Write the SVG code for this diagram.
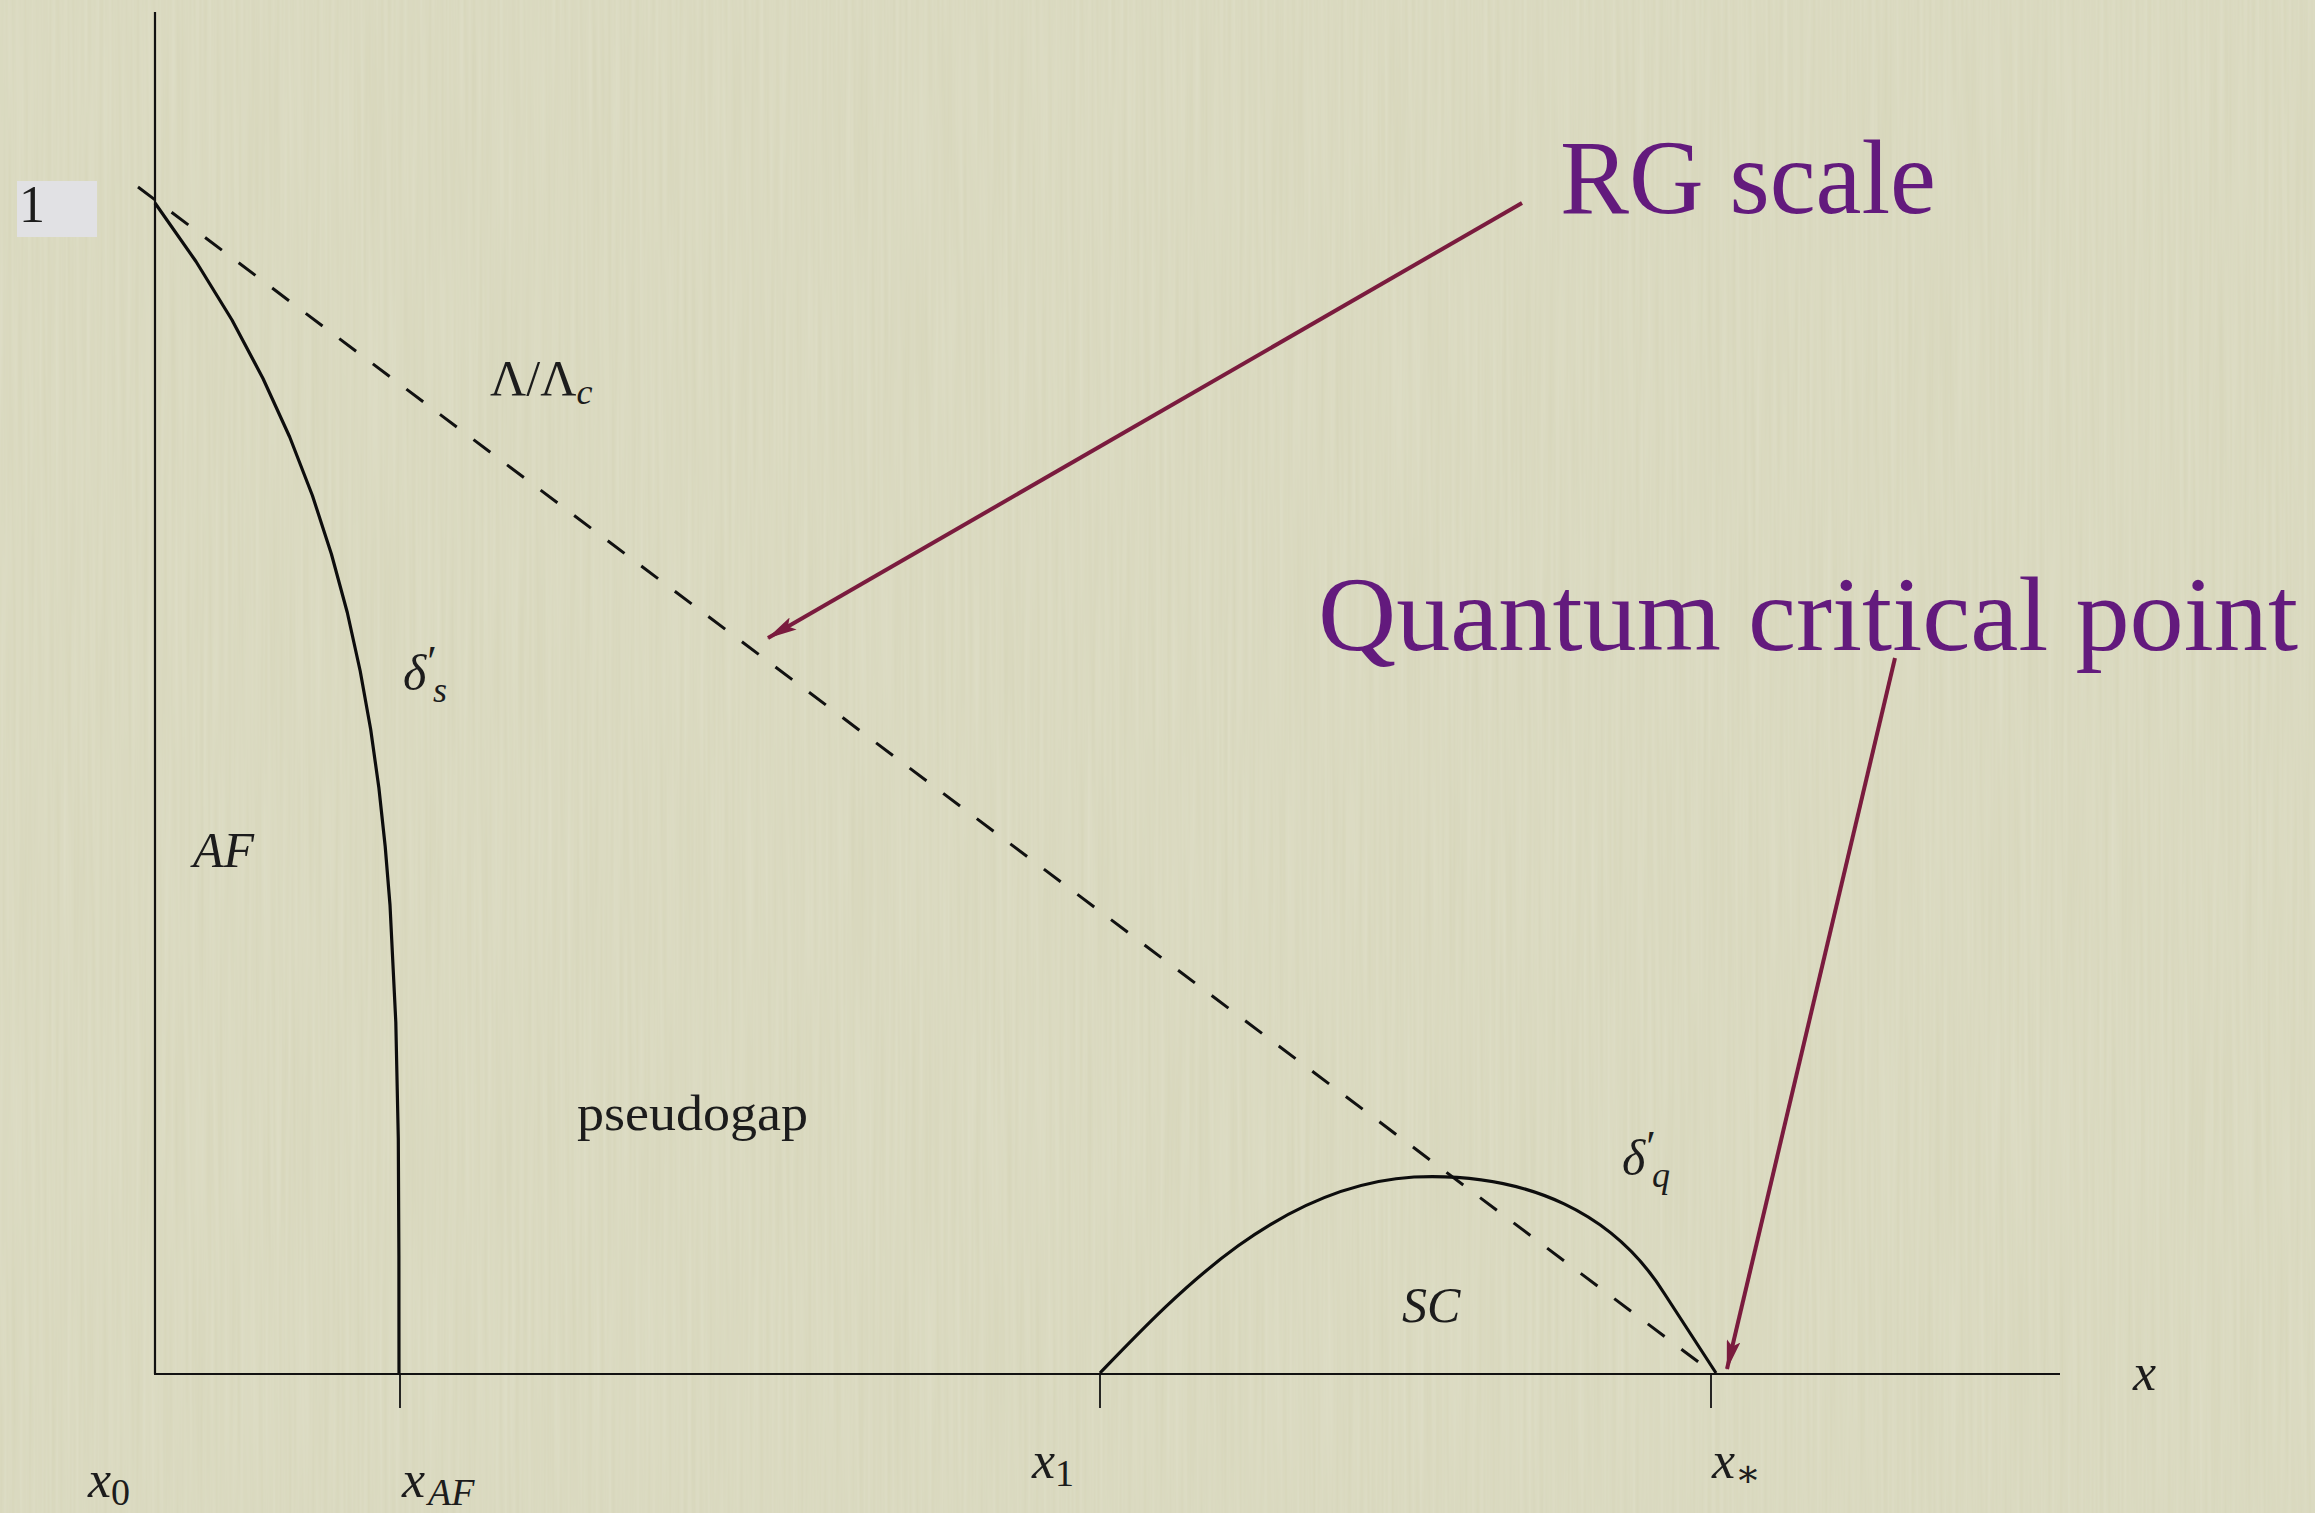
<svg xmlns="http://www.w3.org/2000/svg" width="2315" height="1513" viewBox="0 0 2315 1513">
<style>
.m{font-family:"Liberation Serif","DejaVu Serif",serif;fill:#1c1c1c}
.i{font-style:italic}
.big{font-family:"Liberation Serif","DejaVu Serif",serif;fill:#631a7d;font-size:105px}
.ax{stroke:#111;stroke-width:2.2;fill:none}
.tk{stroke:#111;stroke-width:1.8;fill:none}
.cv{stroke:#0d0d0d;stroke-width:3.2;fill:none;stroke-linejoin:round}
.ar{stroke:#7a1b3e;stroke-width:4;fill:none}
</style>
<defs>
<filter id="paper" x="0" y="0" width="100%" height="100%">
<feTurbulence type="fractalNoise" baseFrequency="0.25 0.004" numOctaves="2" seed="3" result="n"/>
<feColorMatrix in="n" type="matrix" values="0 0 0 0 0.86  0 0 0 0 0.86  0 0 0 0 0.76  0 0 0 0.35 0"/>
</filter>
<marker id="ah" viewBox="0 0 30 14" refX="29" refY="7" markerWidth="30" markerHeight="14" markerUnits="userSpaceOnUse" orient="auto">
<path d="M0,0 L30,7 L0,14 L6,7 Z" fill="#7a1b3e"/>
</marker>
</defs>
<rect width="2315" height="1513" fill="#d6d5b9"/>
<rect width="2315" height="1513" filter="url(#paper)"/>

<g id="axes">
<line class="ax" x1="155" y1="12" x2="155" y2="1374"/>
<line class="ax" x1="154" y1="1374" x2="2060" y2="1374"/>
<line class="tk" x1="400" y1="1374" x2="400" y2="1408"/>
<line class="tk" x1="1100" y1="1374" x2="1100" y2="1408"/>
<line class="tk" x1="1711" y1="1374" x2="1711" y2="1408"/>
</g>

<g id="ytick-1">
<rect x="17" y="181" width="80" height="56" fill="#e1e1e4"/>
<text class="m" x="19" y="222" font-size="52" font-family="Liberation Serif, serif">1</text>
</g>

<g id="curves">
<path id="lambda-line" d="M138,187 L1713,1373" stroke="#111" stroke-width="3" fill="none" stroke-dasharray="21 21"/>
<polyline id="af-boundary" class="cv" points="155,203 196,261.5 232,320 263,378.5 289.7,437 312.4,495.5 331.4,554 347.3,612.5 360.2,671 370.7,729.5 378.9,788 385.2,846.5 390,905 395.8,1022 398.3,1139 398.9,1256 399,1373"/>
<path id="sc-dome" class="cv" d="M1100,1373 C1180,1290 1280,1185 1414,1177 C1530,1172 1615,1215 1664,1293 L1716,1373"/>
</g>

<g id="labels" font-family="Liberation Serif, serif">
<g id="label-lambda"><text class="m" x="490" y="395" font-size="50">Λ/Λ<tspan class="i" font-size="36" dy="9">c</tspan></text></g>
<g id="label-delta-s"><text class="m i" x="403" y="690" font-size="50">δ<tspan font-style="normal" font-size="44" dx="1" dy="-14">′</tspan><tspan font-size="36" dx="-4" dy="26">s</tspan></text></g>
<g id="label-af"><text class="m i" x="193" y="867" font-size="50">AF</text></g>
<g id="label-pseudogap"><text class="m" x="577" y="1130" font-size="50" textLength="231" lengthAdjust="spacingAndGlyphs">pseudogap</text></g>
<g id="label-delta-q"><text class="m i" x="1622" y="1175" font-size="50">δ<tspan font-style="normal" font-size="44" dx="1" dy="-14">′</tspan><tspan font-size="36" dx="-4" dy="26">q</tspan></text></g>
<g id="label-sc"><text class="m i" x="1402" y="1322" font-size="50">SC</text></g>
<g id="label-x0"><text class="m i" x="88" y="1497" font-size="52">x<tspan font-style="normal" font-size="38" dy="8">0</tspan></text></g>
<g id="label-xaf"><text class="m i" x="402" y="1497" font-size="52">x<tspan font-size="38" dx="3" dy="8">AF</tspan></text></g>
<g id="label-x1"><text class="m i" x="1032" y="1478" font-size="52">x<tspan font-style="normal" font-size="38" dy="8">1</tspan></text></g>
<g id="label-xstar"><text class="m i" x="1712" y="1478" font-size="52">x<tspan font-style="normal" font-size="38" dy="8">∗</tspan></text></g>
<g id="label-x"><text class="m i" x="2133" y="1390" font-size="52">x</text></g>
</g>

<g id="node-rg-scale"><text class="big" font-family="Liberation Serif, serif" x="1560" y="213" textLength="376" lengthAdjust="spacingAndGlyphs">RG scale</text></g>
<g id="node-qcp"><text class="big" font-family="Liberation Serif, serif" x="1318" y="650" textLength="980" lengthAdjust="spacingAndGlyphs">Quantum critical point</text></g>

<g id="connectors">
<line class="ar" x1="1522" y1="203" x2="768" y2="638" marker-end="url(#ah)"/>
<line class="ar" x1="1895" y1="658" x2="1727" y2="1369" marker-end="url(#ah)"/>
</g>
</svg>
